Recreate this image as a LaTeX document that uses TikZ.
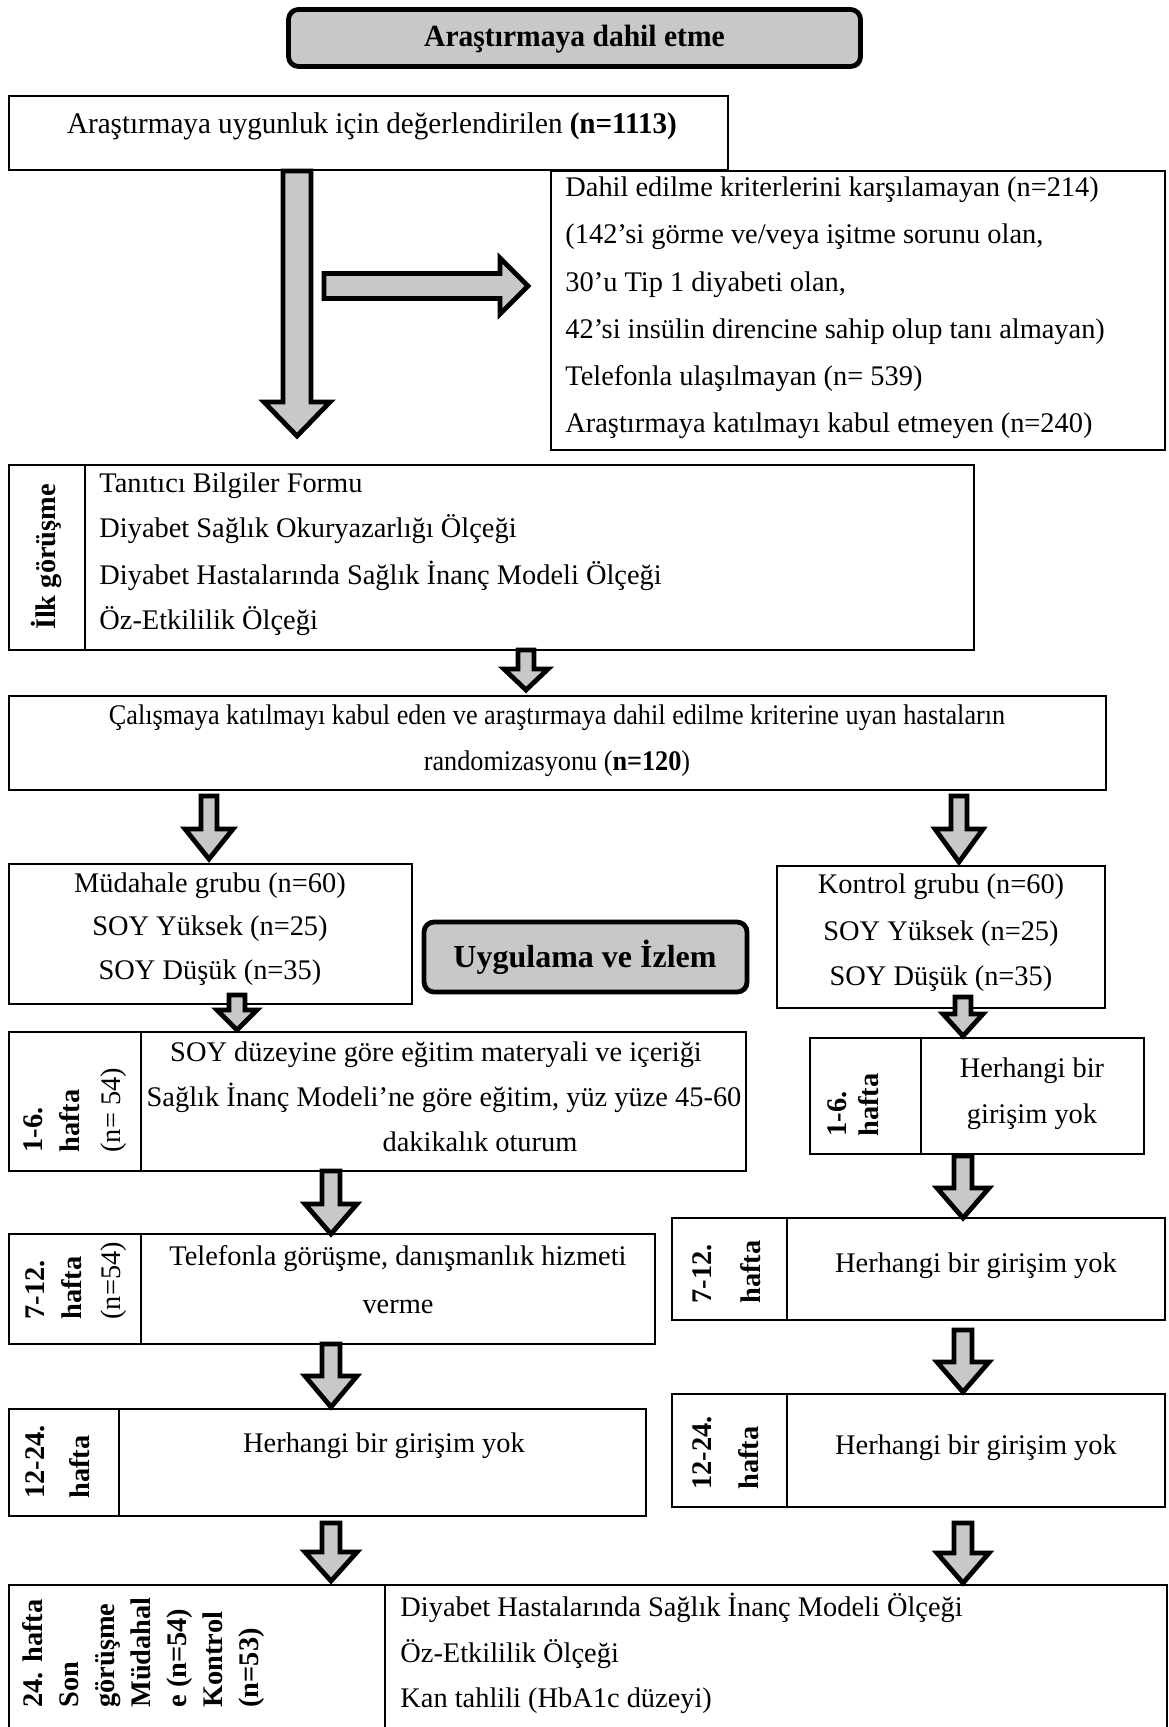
\documentclass[tikz,border=0pt]{standalone}
\usepackage{graphicx}
\usepackage{fontspec}
\setmainfont{Liberation Serif}
\usetikzlibrary{fit,shadows}
\definecolor{ag}{HTML}{C8C8C8}
\newcommand\fs{\fontsize{14.2}{17}\selectfont}
\newcommand\fb{\fontsize{14.2}{17}\selectfont\bfseries}
\newcommand\fbig{\fontsize{16}{19}\selectfont\bfseries}
% x, top, head base, tip, half shaft, half head
\newcommand\blockdown[6]{\draw[barrow] (#1-#5,#2) -- (#1+#5,#2) -- (#1+#5,#3) -- (#1+#6,#3) -- (#1,#4) -- (#1-#6,#3) -- (#1-#5,#3) -- cycle;}
\begin{document}
\begin{tikzpicture}[x=0.5pt,y=-0.5pt,
  box/.style={draw, line width=1.2pt, inner sep=0pt},
  rbox/.style={draw, line width=2.4pt, fill=ag, rounded corners=5pt, inner sep=0pt,
     drop shadow={shadow xshift=1pt, shadow yshift=-1pt, fill=black!70}},
  barrow/.style={draw, line width=2.4pt, fill=ag, line join=miter},
  divider/.style={line width=1.2pt},
  txt/.style={inner sep=0pt, font=\fs},
  btxt/.style={inner sep=0pt, font=\fb},
  vtxt/.style={inner sep=0pt, font=\fb, rotate=90, anchor=base west},
  vntxt/.style={inner sep=0pt, font=\fs, rotate=90, anchor=base west}]
\useasboundingbox (0,0) rectangle (1168,1727);

% ---------- title ----------
\node[rbox, fit={(288.5,9.5) (860.5,66.5)}] (title) {};
\node[inner sep=0pt, font=\fontsize{15.4}{18}\selectfont\bfseries, anchor=base] (titletxt) at (574.5,47) {\scalebox{0.96}[1]{Araştırmaya dahil etme}};

% ---------- evaluated ----------
\node[box, fit={(9,96) (728,170)}] (eval) {};
\node[inner sep=0pt, font=\fontsize{15}{17}\selectfont, anchor=base] (evaltxt) at (372,134) {\scalebox{0.97}[1]{Araştırmaya uygunluk için değerlendirilen \textbf{(n=1113)}}};

% ---------- excluded ----------
\node[box, fit={(551,171) (1165,450)}] (excl) {};
\node[txt, anchor=base west] (ex1) at (565,197) {Dahil edilme kriterlerini karşılamayan (n=214)};
\node[txt, anchor=base west] (ex2) at (565,244) {(142’si görme ve/veya işitme sorunu olan,};
\node[txt, anchor=base west] (ex3) at (565,292) {30’u Tip 1 diyabeti olan,};
\node[txt, anchor=base west] (ex4) at (565,339) {42’si insülin direncine sahip olup tanı almayan)};
\node[txt, anchor=base west] (ex5) at (565,386) {Telefonla ulaşılmayan (n= 539)};
\node[txt, anchor=base west] (ex6) at (565,433) {Araştırmaya katılmayı kabul etmeyen (n=240)};

% arrows from evaluated box
\blockdown{297}{171}{402}{436}{14}{33}
\draw[barrow] (324,273.5) -- (500,273.5) -- (500,258) -- (528,286) -- (500,314) -- (500,298.5) -- (324,298.5) -- cycle;

% ---------- first interview ----------
\node[box, fit={(9,465) (974,650)}] (ilk) {};
\draw[divider] (85,465) -- (85,650);
\node[vtxt, anchor=base] (ilklbl) at (55,557) {İlk görüşme};
\node[txt, anchor=base west] (ilk1) at (99,492) {Tanıtıcı Bilgiler Formu};
\node[txt, anchor=base west] (ilk2) at (99,537) {Diyabet Sağlık Okuryazarlığı Ölçeği};
\node[txt, anchor=base west] (ilk3) at (99,584) {Diyabet Hastalarında Sağlık İnanç Modeli Ölçeği};
\node[txt, anchor=base west] (ilk4) at (99,629) {Öz-Etkililik Ölçeği};

\blockdown{526}{650}{669}{690}{8}{22}

% ---------- randomization ----------
\node[box, fit={(9,696) (1106,790)}] (rand) {};
\node[txt, anchor=base] (rand1) at (557,724) {\scalebox{0.924}[1]{Çalışmaya katılmayı kabul eden ve araştırmaya dahil edilme kriterine uyan hastaların}};
\node[txt, anchor=base] (rand2) at (557,770) {\scalebox{0.924}[1]{randomizasyonu (\textbf{n=120})}};

\blockdown{209}{796}{829}{859}{8}{24}
\blockdown{959}{796}{829}{862}{8}{24}

% ---------- groups ----------
\node[box, fit={(9,864) (412,1004)}] (mud) {};
\node[txt, anchor=base] (mud1) at (210,892) {Müdahale grubu (n=60)};
\node[txt, anchor=base] (mud2) at (210,935) {SOY Yüksek (n=25)};
\node[txt, anchor=base] (mud3) at (210,979) {SOY Düşük (n=35)};

\node[rbox, fit={(424,922) (747,992)}] (uyg) {};
\node[inner sep=0pt, font=\fbig, anchor=base] (uygtxt) at (585,967) {Uygulama ve İzlem};

\node[box, fit={(777,866) (1105,1008)}] (kon) {};
\node[txt, anchor=base] (kon1) at (941,893) {Kontrol grubu (n=60)};
\node[txt, anchor=base] (kon2) at (941,940) {SOY Yüksek (n=25)};
\node[txt, anchor=base] (kon3) at (941,985) {SOY Düşük (n=35)};

\blockdown{237}{995}{1010}{1030}{8}{20}
\blockdown{963}{997}{1014}{1036}{8}{20}

% ---------- left 1-6 ----------
\node[box, fit={(9,1032) (746,1171)}] (l16) {};
\draw[divider] (141,1032) -- (141,1171);
\node[vtxt] (l16a) at (42.5,1153) {1-6.};
\node[vtxt] (l16b) at (79.5,1153) {hafta};
\node[vntxt] (l16c) at (120.5,1153) {(n= 54)};
\node[txt, anchor=base] (l16t1) at (436,1061) {SOY düzeyine göre eğitim materyali ve içeriği};
\node[txt, anchor=base] (l16t2) at (444,1106) {Sağlık İnanç Modeli’ne göre eğitim, yüz yüze 45-60};
\node[txt, anchor=base] (l16t3) at (480,1151) {dakikalık oturum};

% ---------- right 1-6 ----------
\node[box, fit={(810,1038) (1144,1154)}] (r16) {};
\draw[divider] (921,1038) -- (921,1154);
\node[vtxt] (r16a) at (846.5,1137) {1-6.};
\node[vtxt] (r16b) at (878.5,1137) {hafta};
\node[txt, anchor=base] (r16t1) at (1032,1077) {Herhangi bir};
\node[txt, anchor=base] (r16t2) at (1032,1123) {girişim yok};

\blockdown{331}{1171}{1204}{1234}{9}{26}
\blockdown{963}{1156}{1188}{1218}{9}{26}

% ---------- left 7-12 ----------
\node[box, fit={(9,1234) (655,1344)}] (l712) {};
\draw[divider] (141,1234) -- (141,1344);
\node[vtxt] (l712a) at (44.5,1320) {7-12.};
\node[vtxt] (l712b) at (81.5,1320) {hafta};
\node[vntxt] (l712c) at (120.5,1320) {(n=54)};
\node[txt, anchor=base] (l712t1) at (398,1265) {Telefonla görüşme, danışmanlık hizmeti};
\node[txt, anchor=base] (l712t2) at (398,1313) {verme};

% ---------- right 7-12 ----------
\node[box, fit={(672,1218) (1165,1320)}] (r712) {};
\draw[divider] (787,1218) -- (787,1320);
\node[vtxt] (r712a) at (711.5,1304) {7-12.};
\node[vtxt] (r712b) at (760.5,1304) {hafta};
\node[txt, anchor=base] (r712t) at (976,1272) {Herhangi bir girişim yok};

\blockdown{331}{1344}{1376}{1407}{9}{26}
\blockdown{963}{1330}{1362}{1392}{9}{26}

% ---------- left 12-24 ----------
\node[box, fit={(9,1409) (646,1516)}] (l1224) {};
\draw[divider] (119,1409) -- (119,1516);
\node[vtxt] (l1224a) at (44.5,1499) {12-24.};
\node[vtxt] (l1224b) at (89.5,1499) {hafta};
\node[txt, anchor=base] (l1224t) at (384,1452) {Herhangi bir girişim yok};

% ---------- right 12-24 ----------
\node[box, fit={(672,1394) (1165,1507)}] (r1224) {};
\draw[divider] (787,1394) -- (787,1507);
\node[vtxt] (r1224a) at (711.5,1490) {12-24.};
\node[vtxt] (r1224b) at (758.5,1490) {hafta};
\node[txt, anchor=base] (r1224t) at (976,1454) {Herhangi bir girişim yok};

\blockdown{331}{1523}{1552}{1581}{9}{26}
\blockdown{963}{1523}{1553}{1583}{9}{26}

% ---------- final ----------
\node[box, fit={(9,1585) (1167,1745)}] (son) {};
\draw[divider] (385,1585) -- (385,1745);
\node[vtxt] (sa) at (42.5,1708) {24. hafta};
\node[vtxt] (sb) at (78.5,1708) {Son};
\node[vtxt] (sc) at (114.5,1708) {görüşme};
\node[vtxt] (sd) at (150.5,1708) {Müdahal};
\node[vtxt] (se) at (186.5,1708) {e (n=54)};
\node[vtxt] (sf) at (222.5,1708) {Kontrol};
\node[vtxt] (sg) at (258.5,1708) {(n=53)};
\node[txt, anchor=base west] (s1) at (400,1616) {Diyabet Hastalarında Sağlık İnanç Modeli Ölçeği};
\node[txt, anchor=base west] (s2) at (400,1662) {Öz-Etkililik Ölçeği};
\node[txt, anchor=base west] (s3) at (400,1707) {Kan tahlili (HbA1c düzeyi)};
\end{tikzpicture}
\end{document}
